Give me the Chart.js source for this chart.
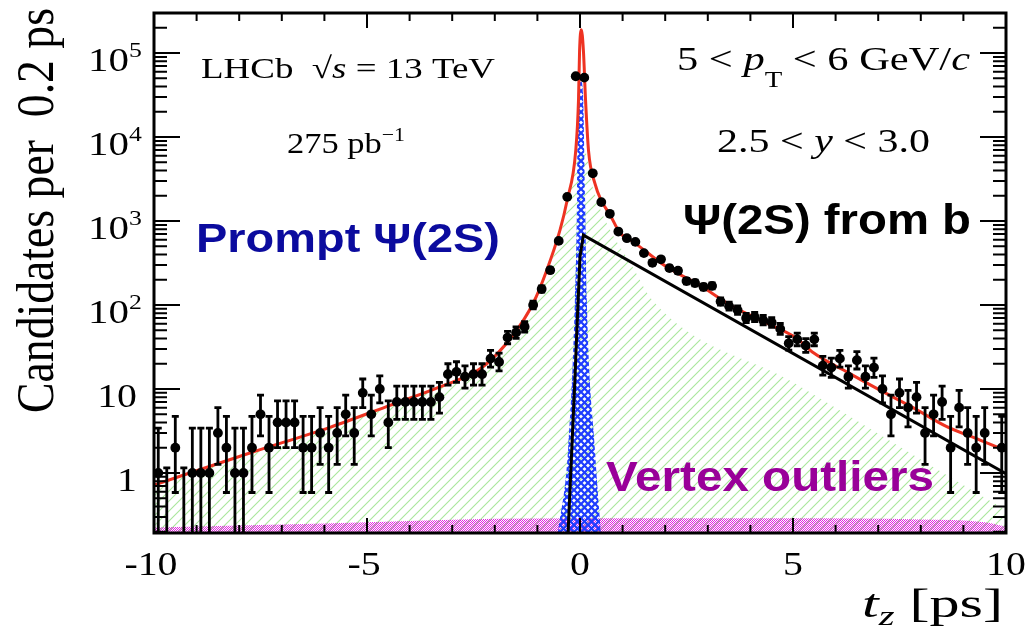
<!DOCTYPE html>
<html lang="en">
<head>
  <meta charset="UTF-8">
  <title>psi(2S) t_z fit</title>
  <script src="https://cdn.jsdelivr.net/npm/chart.js"></script>
  <style>
    body { margin: 0; background: #fff; }
    canvas { display: block; }
  </style>
</head>
<body>
  <canvas id="tzChart" width="1025" height="628"></canvas>

  <script>
    // bin centres (0.2 ps bins) and candidates per bin, null = no entry drawn
    const binCenters = [
      -9.9,-9.7,-9.5,-9.3,-9.1,-8.9,-8.7,-8.5,-8.3,-8.1,
      -7.9,-7.7,-7.5,-7.3,-7.1,-6.9,-6.7,-6.5,-6.3,-6.1,
      -5.9,-5.7,-5.5,-5.3,-5.1,-4.9,-4.7,-4.5,-4.3,-4.1,
      -3.9,-3.7,-3.5,-3.3,-3.1,-2.9,-2.7,-2.5,-2.3,-2.1,
      -1.9,-1.7,-1.5,-1.3,-1.1,-0.9,-0.7,-0.5,-0.3,-0.1,
      0.1,0.3,0.5,0.7,0.9,1.1,1.3,1.5,1.7,1.9,
      2.1,2.3,2.5,2.7,2.9,3.1,3.3,3.5,3.7,3.9,
      4.1,4.3,4.5,4.7,4.9,5.1,5.3,5.5,5.7,5.9,
      6.1,6.3,6.5,6.7,6.9,7.1,7.3,7.5,7.7,7.9,
      8.1,8.3,8.5,8.7,8.9,9.1,9.3,9.5,9.7,9.9
    ];
    const counts = [
      1,0,2,0,1,1,1,3,2,1,
      1,2,5,2,4,4,4,2,2,3,
      2,3,5,3,9,5,10,4,7,7,
      7,7,7,8,15,16,14,15,15,23,
      21,41,47,55,100,155,260,580,1940,53000,
      51000,3700,1680,1220,750,625,565,415,318,350,
      275,256,193,183,164,169,110,97,87,70,
      72,66,62,52,35,39,33,39,19,18,
      23,14,22,14,18,10,5,9,6,8,
      3,5,7,2,6,3,2,3,null,2
    ];

    // total fit (red)
    const totalT = [-10,-7.75,-5.87,-4.46,-3.29,-2.3,-1.57,-1.1,-0.78,-0.47,-0.3,-0.1,-0.035,-0.01,0.03,0.08,0.13,0.2,0.35,0.5,0.7,0.94,1.25,2.03,2.81,3.6,4.38,5.09,5.48,6.26,7.04,7.82,8.61,9.39,10];
    const totalV = [0.72,1.73,3.5,6.4,10.6,18,44,105,260,780,1780,6900,27700,107000,190000,107000,27700,6900,2800,1750,1200,720,565,285,172,95,61,40,27,16,9.7,6,3.56,2.47,1.85];

    // wrong-PV tail (green hatch)
    const tailT = [-10,-7.75,-5.87,-4.46,-3.29,-2.3,-1.57,-1.1,-0.78,-0.47,-0.3,-0.15,0.1,0.3,0.6,1.24,1.7,5,8.29,10];
    const tailV = [0.72,1.73,3.5,6.4,10.6,18,44,100,240,650,1500,4000,7000,2500,1000,282,114,12,1.18,0.36];

    // prompt psi(2S) (blue cross hatch)
    const promptT = [-0.52,-0.28,-0.12,-0.07,-0.05,0.01,0.07,0.12,0.16,0.35,0.49];
    const promptV = [0.193,1.9,114,1780,33000,50000,33000,1780,114,1.9,0.193];

    // psi(2S) from b (black)
    const fromBT = [-0.28,-0.12,-0.06,0,0.08,10];
    const fromBV = [0.193,13,73,375,680,0.98];

    // vertex outliers (magenta band)
    const outlierT = [-10,-6,-2,0,5,8,9.5,10];
    const outlierV = [0.225,0.25,0.285,0.29,0.29,0.28,0.26,0.23];

    const xTicks = [-10,-5,0,5,10];
    const yDecades = [0,1,2,3,4,5];

    const pts = (t, v) => t.map((x, i) => ({ x, y: v[i] }));

    function makePattern(size, draw) {
      const c = document.createElement('canvas');
      c.width = size; c.height = size;
      draw(c.getContext('2d'), size);
      return c.getContext('2d').createPattern(c, 'repeat');
    }
    const ctx0 = document.getElementById('tzChart').getContext('2d');
    const greenHatch = makePattern(10, (g, s) => {
      g.strokeStyle = '#a9e79c'; g.lineWidth = 1.1;
      g.beginPath();
      g.moveTo(-1, s + 1); g.lineTo(s + 1, -1);
      g.moveTo(-1, 1); g.lineTo(1, -1);
      g.moveTo(s - 1, s + 1); g.lineTo(s + 1, s - 1);
      g.stroke();
    });
    const blueHatch = makePattern(7, (g, s) => {
      g.strokeStyle = '#1e3cff'; g.lineWidth = 2.2;
      g.beginPath();
      g.moveTo(0, 0); g.lineTo(s, s);
      g.moveTo(0, s); g.lineTo(s, 0);
      g.stroke();
    });
    const magentaHatch = makePattern(2, (g) => {
      g.fillStyle = '#e028e0';
      g.fillRect(0, 0, 1, 1); g.fillRect(1, 1, 1, 1);
    });

    const SERIF = "'Liberation Serif', 'Times New Roman', serif";
    const SANS = "'Liberation Sans', Arial, sans-serif";

    // draw a run of [text, font, dy] pieces, optionally squeezed to width w
    function drawRich(ctx, segs, x, y, w, sx) {
      let tot = 0;
      segs.forEach(s => { ctx.font = s[1]; tot += ctx.measureText(s[0]).width; });
      const k = w ? w / tot : (sx || 1);
      ctx.save();
      ctx.translate(x, y);
      ctx.scale(k, 1);
      ctx.textBaseline = 'alphabetic';
      ctx.textAlign = 'left';
      let cx = 0;
      segs.forEach(s => {
        ctx.font = s[1];
        ctx.fillText(s[0], cx, s[2] || 0);
        cx += ctx.measureText(s[0]).width;
      });
      ctx.restore();
      return tot * k;
    }
    function richWidth(ctx, segs, sx) {
      let tot = 0;
      segs.forEach(s => { ctx.font = s[1]; tot += ctx.measureText(s[0]).width; });
      return tot * sx;
    }

    const errorBars = {
      id: 'errorBars',
      afterDatasetsDraw(chart) {
        const { ctx, scales: { x, y }, chartArea: a } = chart;
        ctx.save();
        ctx.beginPath();
        ctx.rect(a.left, a.top, a.right - a.left, a.bottom - a.top);
        ctx.clip();
        ctx.strokeStyle = '#000';
        ctx.lineWidth = 2.8;
        binCenters.forEach((t, i) => {
          const n = counts[i];
          if (n === null) return;
          const px = x.getPixelForValue(t);
          const lo = n - Math.sqrt(n);
          const hi = n > 0 ? n + 1 + Math.sqrt(n + 1) : 1.15;
          const pLo = lo > 0.01 ? y.getPixelForValue(lo) : a.bottom + 10;
          const pHi = y.getPixelForValue(hi);
          ctx.beginPath();
          ctx.moveTo(px, pLo); ctx.lineTo(px, pHi);
          ctx.moveTo(px - 3.5, pHi); ctx.lineTo(px + 3.5, pHi);
          ctx.moveTo(px - 3.5, pLo); ctx.lineTo(px + 3.5, pLo);
          if (n > 0) {
            const py = y.getPixelForValue(n);
            ctx.moveTo(x.getPixelForValue(t - 0.1), py);
            ctx.lineTo(x.getPixelForValue(t + 0.1), py);
          }
          ctx.stroke();
        });
        ctx.restore();
      }
    };

    const frameAndText = {
      id: 'frameAndText',
      afterDraw(chart) {
        const { ctx, scales: { x, y }, chartArea: a } = chart;
        ctx.save();
        ctx.strokeStyle = '#000';
        ctx.fillStyle = '#000';

        // ticks
        ctx.lineWidth = 2;
        ctx.beginPath();
        for (let t = -10; t <= 10; t++) {
          const px = x.getPixelForValue(t);
          const len = t % 5 === 0 ? 15 : 8;
          ctx.moveTo(px, a.bottom); ctx.lineTo(px, a.bottom - len);
          ctx.moveTo(px, a.top); ctx.lineTo(px, a.top + len);
        }
        for (let d = -1; d <= 5; d++) {
          for (let k = 1; k <= 9; k++) {
            const v = k * Math.pow(10, d);
            if (v < y.min || v > y.max) continue;
            const py = y.getPixelForValue(v);
            const len = k === 1 ? 26 : 13;
            ctx.moveTo(a.left, py); ctx.lineTo(a.left + len, py);
            ctx.moveTo(a.right, py); ctx.lineTo(a.right - len, py);
          }
        }
        ctx.stroke();

        // frame
        ctx.lineWidth = 3;
        ctx.strokeRect(a.left, a.top, a.right - a.left, a.bottom - a.top);

        const SX = 1.17;
        // x tick labels
        xTicks.forEach(t => {
          const segs = [[String(t), '34px ' + SERIF]];
          const w = richWidth(ctx, segs, SX);
          drawRich(ctx, segs, x.getPixelForValue(t) - w / 2 + (t < 0 ? -3 : 0), 575, null, SX);
        });
        // y tick labels
        yDecades.forEach(d => {
          const py = y.getPixelForValue(Math.pow(10, d));
          if (d >= 2) {
            drawRich(ctx, [['10', '34px ' + SERIF]], 88, py + 18, 41);
            drawRich(ctx, [[String(d), '22px ' + SERIF]], 129, py + 4, null, SX);
          } else {
            const segs = [[d === 1 ? '10' : '1', '34px ' + SERIF]];
            const w = richWidth(ctx, segs, SX);
            drawRich(ctx, segs, 137 - w, py + 18, null, SX);
          }
        });

        // axis titles
        ctx.save();
        ctx.translate(53, 413);
        ctx.rotate(-Math.PI / 2);
        ctx.scale(1, SX);
        drawRich(ctx, [['Candidates per  0.2 ps', '46px ' + SERIF]], 0, 0, 405);
        ctx.restore();
        drawRich(ctx, [
          ['t', 'italic 40px ' + SERIF],
          ['z', 'italic 27px ' + SERIF, 8],
          [' [ps]', '40px ' + SERIF]
        ], 862, 617, 141);

        // annotations
        drawRich(ctx, [
          ['LHCb  ', '30px ' + SERIF],
          ['\u221A', '30px ' + SERIF],
          ['s', 'italic 30px ' + SERIF],
          [' = 13 TeV', '30px ' + SERIF]
        ], 201, 78, 294);
        drawRich(ctx, [
          ['275 pb', '30px ' + SERIF],
          ['\u22121', '19px ' + SERIF, -12]
        ], 287, 153, 118);
        drawRich(ctx, [
          ['5 < ', '34px ' + SERIF],
          ['p', 'italic 34px ' + SERIF],
          ['T', '23px ' + SERIF, 17],
          [' < 6 GeV/', '34px ' + SERIF],
          ['c', 'italic 34px ' + SERIF]
        ], 677, 70, 293);
        drawRich(ctx, [
          ['2.5 < ', '34px ' + SERIF],
          ['y', 'italic 34px ' + SERIF],
          [' < 3.0', '34px ' + SERIF]
        ], 717, 152, 213);

        ctx.fillStyle = '#0b0b9e';
        drawRich(ctx, [['Prompt \u03A8(2S)', 'bold 41px ' + SANS]], 196, 252, 304);
        ctx.fillStyle = '#000';
        drawRich(ctx, [['\u03A8(2S) from b', 'bold 42px ' + SANS]], 683, 234, 288);
        ctx.fillStyle = '#990099';
        drawRich(ctx, [['Vertex outliers', 'bold 42px ' + SANS]], 606, 491, 328);

        ctx.restore();
      }
    };

    new Chart(ctx0, {
      type: 'line',
      data: {
        datasets: [
          {
            label: 'Data',
            data: binCenters.map((t, i) => ({ x: t, y: counts[i] > 0 ? counts[i] : null })),
            showLine: false,
            pointRadius: 4.9,
            pointBackgroundColor: '#000',
            pointBorderColor: '#000',
            pointBorderWidth: 0
          },
          {
            label: 'Total fit',
            data: pts(totalT, totalV),
            borderColor: '#ee3322',
            borderWidth: 3,
            pointRadius: 0,
            cubicInterpolationMode: 'monotone',
            fill: false
          },
          {
            label: 'psi(2S) from b',
            data: pts(fromBT, fromBV),
            borderColor: '#000',
            borderWidth: 3,
            pointRadius: 0,
            tension: 0,
            fill: false
          },
          {
            label: 'Prompt',
            data: pts(promptT, promptV),
            borderColor: 'rgba(0,0,0,0)',
            borderWidth: 0,
            backgroundColor: blueHatch,
            pointRadius: 0,
            cubicInterpolationMode: 'monotone',
            fill: 'start'
          },
          {
            label: 'Vertex outliers',
            data: pts(outlierT, outlierV),
            borderColor: 'rgba(0,0,0,0)',
            borderWidth: 0,
            backgroundColor: magentaHatch,
            pointRadius: 0,
            cubicInterpolationMode: 'monotone',
            fill: 'start'
          },
          {
            label: 'Tail',
            data: pts(tailT, tailV),
            borderColor: 'rgba(0,0,0,0)',
            borderWidth: 0,
            backgroundColor: greenHatch,
            pointRadius: 0,
            cubicInterpolationMode: 'monotone',
            fill: 'start'
          }
        ]
      },
      options: {
        responsive: false,
        animation: false,
        layout: { padding: { left: 154, right: 19, top: 13, bottom: 95 } },
        plugins: { legend: { display: false }, tooltip: { enabled: false } },
        scales: {
          x: { type: 'linear', min: -10, max: 10, display: false },
          y: { type: 'logarithmic', min: 0.193, max: 3.0e5, display: false }
        }
      },
      plugins: [errorBars, frameAndText]
    });
  </script>
</body>
</html>
